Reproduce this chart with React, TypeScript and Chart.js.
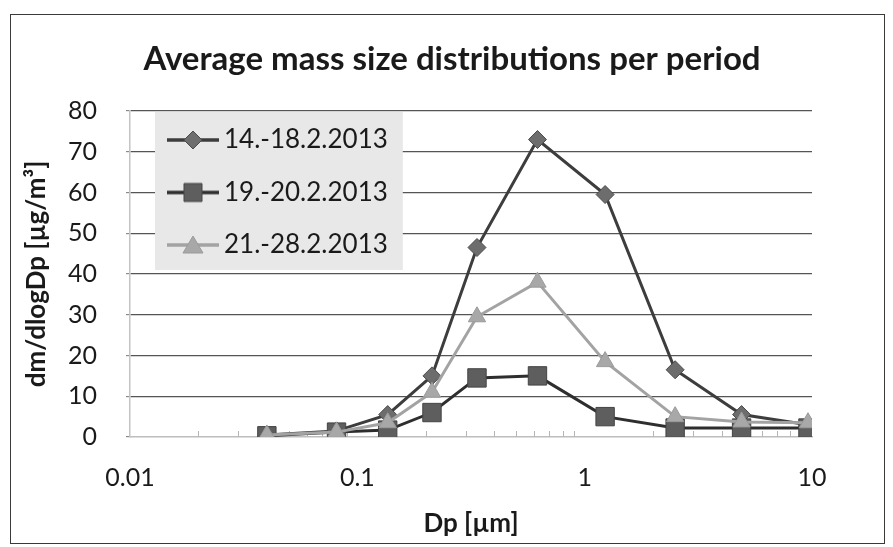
import React, { useEffect, useRef } from 'react';
import { Chart, registerables } from 'chart.js';

Chart.register(...registerables);

// ---- data ----
const diameters = [0.04, 0.081, 0.136, 0.213, 0.336, 0.62, 1.23, 2.5, 4.9, 9.6];
const period1 = [0.5, 1.5, 5.5, 15, 46.5, 73, 59.5, 16.5, 5.5, 3];
const period2 = [0.3, 1.2, 1.7, 6, 14.5, 15, 5, 2.2, 2.2, 2.2];
const period3 = [0.5, 1.2, 3.5, 11, 29.5, 38, 18.5, 5, 3.7, 3.5];
const seriesLabels = ['14.-18.2.2013', '19.-20.2.2013', '21.-28.2.2013'];
const xTickValues = [0.01, 0.1, 1, 10];
const xTickLabels = ['0.01', '0.1', '1', '10'];
const yMin = 0;
const yMax = 80;
const yStep = 10;
const chartTitle = 'Average mass size distributions per period';
const xTitle = 'Dp [µm]';
const yTitle = 'dm/dlogDp [µg/m³]';

const FONT = 'Lato';
const TEXT = '#1a1a1a';

function makeLegendSample(kind: string, line: string, fill: string, stroke: string): HTMLCanvasElement {
  const c = document.createElement('canvas');
  c.width = 52;
  c.height = 22;
  const g = c.getContext('2d')!;
  g.strokeStyle = line;
  g.lineWidth = 3.5;
  g.beginPath();
  g.moveTo(0, 11);
  g.lineTo(52, 11);
  g.stroke();
  g.fillStyle = fill;
  g.strokeStyle = stroke;
  g.lineWidth = 1;
  g.beginPath();
  if (kind === 'diamond') {
    g.moveTo(26, 2);
    g.lineTo(35, 11);
    g.lineTo(26, 20);
    g.lineTo(17, 11);
    g.closePath();
  } else if (kind === 'square') {
    g.rect(17, 2, 18, 18);
  } else {
    g.moveTo(26, 2);
    g.lineTo(36, 19);
    g.lineTo(16, 19);
    g.closePath();
  }
  g.fill();
  g.stroke();
  return c;
}

export default function App() {
  const ref = useRef<HTMLCanvasElement>(null);

  useEffect(() => {
    const samples = [
      makeLegendSample('diamond', '#3d3d3d', '#6d6d6d', '#4a4a4a'),
      makeLegendSample('square', '#2e2e2e', '#5e5e5e', '#444'),
      makeLegendSample('triangle', '#a3a3a3', '#a8a8a8', '#9a9a9a'),
    ];

    const legendPlugin = {
      id: 'legendTweaks',
      beforeLayout(chart: any) {
        const lg = chart.legend;
        if (lg && !lg.__zset) {
          lg._layers = () => [{ z: 1, draw: (ca: any) => lg.draw(ca) }];
          lg.__zset = true;
        }
      },
      afterLayout(chart: any) {
        const lg = chart.legend;
        if (!lg) return;
        lg.left = chart.chartArea.left + 18.5;
        lg.top = chart.chartArea.top - 10.5;
      },
      beforeDatasetsDraw(chart: any) {
        const xs = chart.scales.x;
        const ctx = chart.ctx;
        const bottom = chart.chartArea.bottom;
        ctx.save();
        ctx.strokeStyle = '#b5b5b5';
        ctx.lineWidth = 1;
        for (let d = 0; d < xTickValues.length - 1; d++) {
          for (let k = 2; k <= 9; k++) {
            const px = Math.round(xs.getPixelForValue(xTickValues[d] * k)) + 0.5;
            ctx.beginPath();
            ctx.moveTo(px, bottom);
            ctx.lineTo(px, bottom - 6);
            ctx.stroke();
          }
        }
        ctx.restore();
      },
      afterDatasetsDraw(chart: any) {
        const lg = chart.legend;
        if (!lg || !lg.legendHitBoxes || !lg.legendHitBoxes.length) return;
        const hb = lg.legendHitBoxes;
        const first = hb[0];
        const last = hb[hb.length - 1];
        let right = 0;
        hb.forEach((h: any) => { right = Math.max(right, h.left + h.width); });
        const ctx = chart.ctx;
        ctx.save();
        ctx.fillStyle = '#e8e8e8';
        ctx.fillRect(first.left - 20, first.top - 15, right + 15 - (first.left - 20), last.top + last.height + 12 - (first.top - 15));
        ctx.restore();
      },
    };

    const mk = (vals: number[]) => diameters.map((x, i) => ({ x, y: vals[i] }));

    const chart = new Chart(ref.current!, {
      type: 'line',
      data: {
        datasets: [
          {
            label: seriesLabels[0],
            data: mk(period1),
            borderColor: '#3d3d3d',
            borderWidth: 3,
            pointStyle: 'rectRot',
            pointRadius: 9,
            pointBackgroundColor: '#6d6d6d',
            pointBorderColor: '#4a4a4a',
            pointBorderWidth: 1,
            order: 3,
          },
          {
            label: seriesLabels[1],
            data: mk(period2),
            borderColor: '#2e2e2e',
            borderWidth: 3,
            pointStyle: 'rect',
            pointRadius: 13,
            pointBackgroundColor: '#5e5e5e',
            pointBorderColor: '#444',
            pointBorderWidth: 1,
            order: 2,
          },
          {
            label: seriesLabels[2],
            data: mk(period3),
            borderColor: '#a3a3a3',
            borderWidth: 3,
            pointStyle: 'triangle',
            pointRadius: 10,
            pointBackgroundColor: '#a8a8a8',
            pointBorderColor: '#9a9a9a',
            pointBorderWidth: 1,
            order: 1,
          },
        ],
      },
      options: {
        animation: false,
        responsive: false,
        devicePixelRatio: 1,
        layout: { padding: { left: 11, right: 0, top: 0, bottom: 0 } },
        scales: {
          x: {
            type: 'logarithmic',
            min: xTickValues[0],
            max: xTickValues[xTickValues.length - 1],
            afterBuildTicks: (scale: any) => {
              scale.ticks = xTickValues.map((v) => ({ value: v }));
            },
            afterFit: (scale: any) => {
              scale.height = 110;
            },
            ticks: {
              autoSkip: false,
              maxRotation: 0,
              padding: 26,
              color: TEXT,
              font: { family: FONT, size: 25 },
              callback: (v: any) => {
                const i = xTickValues.indexOf(Number(v));
                return i >= 0 ? xTickLabels[i] : '';
              },
            },
            grid: { display: false, drawTicks: false },
            border: { display: true, color: '#bdbdbd', width: 1.5 },
            title: {
              display: true,
              text: xTitle,
              color: TEXT,
              font: { family: FONT, size: 26, weight: 'bold' },
              padding: { top: 0, bottom: 8 },
            },
          },
          y: {
            type: 'linear',
            min: yMin,
            max: yMax,
            afterFit: (scale: any) => {
              scale.width = 119;
            },
            ticks: {
              stepSize: yStep,
              padding: 29,
              color: TEXT,
              font: { family: FONT, size: 25 },
            },
            grid: {
              color: (c: any) => (c.tick && c.tick.value === 0 ? 'rgba(0,0,0,0)' : '#555555'),
              lineWidth: 1.2,
              drawTicks: true,
              tickLength: 4,
              tickColor: '#8a8a8a',
            },
            border: { display: true, color: '#c4c4c4', width: 1.5 },
            title: {
              display: true,
              text: yTitle,
              color: TEXT,
              font: { family: FONT, size: 26, weight: 'bold' },
              padding: { top: 10, bottom: 0 },
            },
          },
          yR: {
            type: 'linear',
            position: 'right',
            display: true,
            afterFit: (scale: any) => {
              scale.width = 81;
            },
            ticks: { display: false },
            grid: { display: false, drawTicks: false },
            border: { display: false },
          },
        },
        plugins: {
          title: {
            display: true,
            text: chartTitle,
            color: TEXT,
            font: { family: FONT, size: 33, weight: 'bold' },
            padding: { top: 40, bottom: 31.4 },
          },
          legend: {
            display: true,
            position: 'chartArea',
            align: 'start',
            labels: {
              color: TEXT,
              font: { family: FONT, size: 26 },
              usePointStyle: true,
              pointStyleWidth: 36,
              padding: 26.5,
              generateLabels: (c: any) => {
                const items = (Chart.defaults as any).plugins.legend.labels.generateLabels(c);
                items.sort((a: any, b: any) => a.datasetIndex - b.datasetIndex);
                return items.map((it: any) => ({ ...it, pointStyle: samples[it.datasetIndex], lineWidth: 0 }));
              },
            },
          },
          tooltip: { enabled: false },
        },
      } as any,
      plugins: [legendPlugin],
    });

    return () => chart.destroy();
  }, []);

  return (
    <div style={{ position: 'absolute', left: 0, top: 0, width: 893, height: 547, background: '#fff' }}>
      <canvas ref={ref} width={893} height={547} style={{ position: 'absolute', left: 0, top: 0, width: 893, height: 547 }} />
      <div
        style={{
          position: 'absolute',
          left: 10,
          top: 14,
          width: 875,
          height: 530,
          border: '1.5px solid #3a3a3a',
          boxSizing: 'border-box',
          pointerEvents: 'none',
        }}
      />
    </div>
  );
}
